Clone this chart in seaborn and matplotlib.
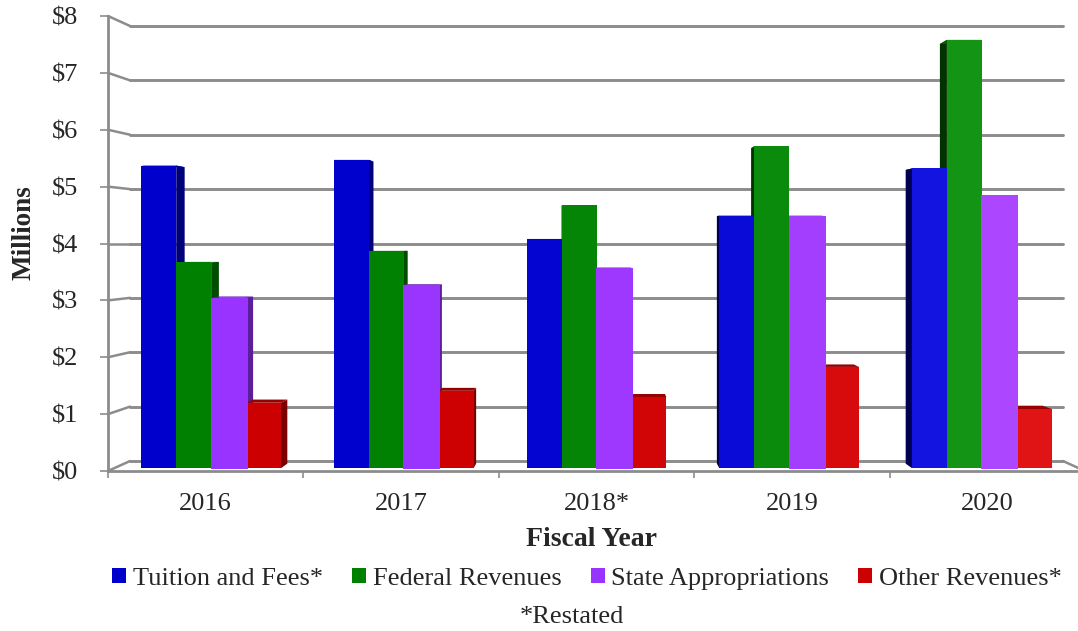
import numpy as np
import pandas as pd
import matplotlib
matplotlib.use("Agg")
import matplotlib.pyplot as plt
import seaborn as sns
from matplotlib.colors import to_rgb
from matplotlib.patches import Polygon

years = ["2016", "2017", "2018*", "2019", "2020"]
series = ["Tuition and Fees*", "Federal Revenues", "State Appropriations", "Other Revenues*"]
tuition = [5.37, 5.47, 4.08, 4.49, 5.32]
federal = [3.67, 3.87, 4.67, 5.71, 7.58]
state = [3.05, 3.27, 3.57, 4.49, 4.85]
other = [1.20, 1.41, 1.30, 1.83, 1.09]
colors = ["#0000CC", "#008000", "#9933FF", "#CC0000"]
y_ticks = [0, 1, 2, 3, 4, 5, 6, 7, 8]
y_labels = ["$0", "$1", "$2", "$3", "$4", "$5", "$6", "$7", "$8"]

W, H = 1078, 631
grid_col = "#8c8c8c"
# bars get a bit lighter towards the right of the original
lift = [0, 0.005, 0.02, 0.045, 0.08]

sns.set_style("white")
plt.rcParams["font.family"] = ["Liberation Serif", "DejaVu Serif"]

df = pd.DataFrame({
    "year": np.repeat(years, 4),
    "series": series * 5,
    "value": np.array([tuition, federal, state, other]).T.ravel(),
})

fig = plt.figure(figsize=(W / 100, H / 100), dpi=100)
# axes box in pixels: left 108, right 1085 (runs off the image), y=0 at 471, y=8 at 16
ax = fig.add_axes([108 / W, 1 - 471 / H, (1085 - 108) / W, (471 - 16) / H])
sns.barplot(data=df, x="year", y="value", hue="series", hue_order=series, palette=colors,
            width=0.725, gap=0, saturation=1, edgecolor="none", linewidth=0, ax=ax, zorder=3)
ax.set_xlim(-0.5, 4.5)
ax.set_ylim(0, 8)
handles, labels = ax.get_legend_handles_labels()


def back_y(v, k=0.044):
    return v + k * (4 - v)


# fake 3d back wall
xb, xr = -0.387, 4.387
for v in y_ticks:
    ax.plot([xb, xr], [back_y(v), back_y(v)], color=grid_col, lw=2.1, zorder=1, clip_on=False)
    ax.plot([-0.5, xb], [v, back_y(v)], color=grid_col, lw=1.8, zorder=1, clip_on=False)
ax.plot([xr, 4.5], [back_y(0), 0], color=grid_col, lw=1.8, zorder=1, clip_on=False)


def lighten(col, a):
    return tuple(min(1, c + a) for c in to_rgb(col))


def shade(col, f):
    return tuple(c * f for c in to_rgb(col))


# pull the bars in towards the middle, they sit in front of the wall
cx = 2.0
squeeze = 0.986
base = 0.05
for cont, col in zip(ax.containers, colors):
    for i, bar in enumerate(cont):
        bar.set_x(cx + (bar.get_x() - cx) * squeeze)
        bar.set_width(bar.get_width() * squeeze)
        bar.set_height(bar.get_height() - base)
        bar.set_y(base)
        bar.set_facecolor(lighten(col, lift[i]))

# side and top faces, taller bars first so the lower tops sit over them
depth = 0.02
faces = [(bar, col) for cont, col in zip(ax.containers, colors) for bar in cont]
faces.sort(key=lambda f: -f[0].get_height())
for bar, col in faces:
    x0, x1 = bar.get_x(), bar.get_x() + bar.get_width()
    h = bar.get_y() + bar.get_height()
    right_side = x1 < cx
    edge = x1 if right_side else x0
    dx = depth * (cx - edge)
    yt = h + depth * (4 - h)
    yb = base + depth * (4 - base)
    ax.add_patch(Polygon([(edge, base), (edge + dx, yb), (edge + dx, yt), (edge, h)],
                         facecolor=shade(col, 0.6 if right_side else 0.4), edgecolor="none", zorder=2))
    ax.add_patch(Polygon([(x0, h), (x0 + depth * (cx - x0), yt), (x1 + depth * (cx - x1), yt), (x1, h)],
                         facecolor=shade(col, 0.75), edgecolor="none", zorder=2))

# purple is drawn a little wider and lower than the others
for bar in ax.containers[2]:
    bar.set_zorder(3.5)
    bar.set_x(bar.get_x() - 0.003)
    bar.set_width(bar.get_width() * 1.06)
    bar.set_height(bar.get_height() + 0.02)
    bar.set_y(base - 0.02)

sns.despine(ax=ax, top=True, right=True)
for s in ["left", "bottom"]:
    ax.spines[s].set_color(grid_col)
    ax.spines[s].set_linewidth(2.0)
    ax.spines[s].set_zorder(1)

ax.set_yticks(y_ticks, y_labels)
ax.set_xticks(range(5), years)
ax.set_xticks([i - 0.5 for i in range(6)], minor=True)
ax.tick_params(axis="y", length=5.5, width=1.2, color=grid_col, labelsize=19, pad=16, left=True)
ax.tick_params(axis="x", which="major", length=0, labelsize=19, pad=16)
ax.tick_params(axis="x", which="minor", length=5, width=1.2, color=grid_col, bottom=True)

ax.set_ylabel("Millions", fontsize=19.5, fontweight="bold", va="center")
ax.yaxis.set_label_coords((24 - 108) / (1085 - 108), (471 - 233) / (471 - 16))
ax.set_xlabel("Fiscal Year", fontsize=20, fontweight="bold", va="center")
ax.xaxis.set_label_coords((592 - 108) / (1085 - 108), (471 - 539) / (471 - 16))

ax.legend(handles, labels, ncol=4, frameon=False, fontsize=19, loc="center",
          bbox_to_anchor=(587 / W, 1 - 579 / H), bbox_transform=fig.transFigure,
          handlelength=0.53, handleheight=0.53, handletextpad=0.25, columnspacing=1.1,
          borderpad=0, borderaxespad=0)
fig.text(572 / W, 1 - 617 / H, "*Restated", fontsize=19, ha="center", va="center")

fig.savefig("out.png", dpi=100)
